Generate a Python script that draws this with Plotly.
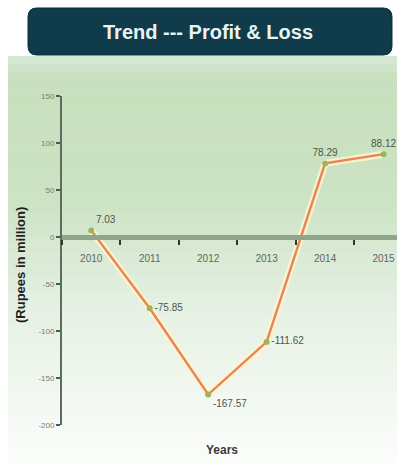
import plotly.graph_objects as go

# Yearly profit / loss (Rupees in million)
years = ["2010", "2011", "2012", "2013", "2014", "2015"]
profit_loss = [7.03, -75.85, -167.57, -111.62, 78.29, 88.12]
value_labels = ["7.03", "-75.85", "-167.57", "-111.62", "78.29", "88.12"]
label_positions = ["top right", "middle right", "bottom right", "middle right", "top center", "top center"]
y_ticks = [150, 100, 50, 0, -50, -100, -150, -200]

W, H = 397, 464
L, R, T, B = 62, 0, 96, 39
y_range = [-200, 150]

def px_x(p):
    return (p - L) / (W - L - R)

def px_y(p):
    return (H - B - p) / (H - T - B)

fig = go.Figure()

# soft glow under the trend line
fig.add_trace(go.Scatter(
    x=years, y=profit_loss, mode="lines",
    line=dict(color="rgba(255,246,200,0.85)", width=7),
    hoverinfo="skip", showlegend=False, cliponaxis=False,
))
fig.add_trace(go.Scatter(
    x=years, y=profit_loss, mode="lines+markers+text",
    line=dict(color="#e8835f", width=2.4),
    marker=dict(color="#9db35c", size=6),
    text=value_labels, textposition=label_positions,
    textfont=dict(family="Liberation Sans, Arial", size=10, color="#4a574a"),
    showlegend=False, cliponaxis=False,
))

shapes = []
# vertical background wash: pale green at the top fading to white
stops = [(56, (214, 232, 214)), (80, (200, 224, 190)), (200, (204, 227, 196)), (300, (228, 240, 226)),
         (400, (243, 248, 242)), (464, (252, 253, 252))]
n_bands = 52
for i in range(n_bands):
    p0 = 56 + (464 - 56) * i / n_bands
    p1 = 56 + (464 - 56) * (i + 1) / n_bands
    pm = (p0 + p1) / 2
    for (a, ca), (b, cb) in zip(stops[:-1], stops[1:]):
        if a <= pm <= b:
            t = (pm - a) / (b - a)
            c = tuple(round(ca[k] + (cb[k] - ca[k]) * t) for k in range(3))
            break
    shapes.append(dict(
        type="rect", xref="paper", yref="paper", layer="below",
        x0=px_x(8), x1=px_x(397), y0=px_y(p1 + 0.5), y1=px_y(p0),
        fillcolor="rgb(%d,%d,%d)" % c, line=dict(width=0),
    ))

# rounded title banner
bx0, bx1, by0, by1 = 28, 392, 8, 55
r = 9
def pt(x, y):
    return "%.5f,%.5f" % (px_x(x), px_y(y))
path = ("M " + pt(bx0 + r, by0) + " L " + pt(bx1 - r, by0) + " Q " + pt(bx1, by0) + " " + pt(bx1, by0 + r)
        + " L " + pt(bx1, by1 - r) + " Q " + pt(bx1, by1) + " " + pt(bx1 - r, by1)
        + " L " + pt(bx0 + r, by1) + " Q " + pt(bx0, by1) + " " + pt(bx0, by1 - r)
        + " L " + pt(bx0, by0 + r) + " Q " + pt(bx0, by0) + " " + pt(bx0 + r, by0) + " Z")
shapes.append(dict(type="path", xref="paper", yref="paper", path=path,
                   fillcolor="#0f3b4a", line=dict(color="#0a2e3a", width=1), layer="above"))

annotations = [
    dict(text="<b>Trend --- Profit &amp; Loss</b>", xref="paper", yref="paper",
         x=px_x(208), y=px_y(32), xanchor="center", yanchor="middle", showarrow=False,
         font=dict(family="Liberation Sans, Arial", size=20, color="#e8f4f4")),
    dict(text="<b>Years</b>", xref="paper", yref="paper",
         x=px_x(222), y=px_y(450), xanchor="center", yanchor="middle", showarrow=False,
         font=dict(family="Liberation Sans, Arial", size=12, color="#3a3a3a")),
    dict(text="<b>(Rupees in million)</b>", xref="paper", yref="paper", textangle=-90,
         x=px_x(20), y=px_y(265), xanchor="center", yanchor="middle", showarrow=False,
         font=dict(family="Liberation Sans, Arial", size=13, color="#1e1e1e")),
]

zero_pos = (0 - y_range[0]) / (y_range[1] - y_range[0])

fig.update_layout(
    width=W, height=H,
    margin=dict(l=L, r=R, t=T, b=B),
    paper_bgcolor="white",
    plot_bgcolor="rgba(0,0,0,0)",
    shapes=shapes,
    annotations=annotations,
    xaxis=dict(
        type="category", categoryorder="array", categoryarray=years,
        range=[-0.5, 5.23], anchor="free", position=zero_pos,
        showline=True, linecolor="#8ea58e", linewidth=5,
        ticks="outside", tickson="boundaries", ticklen=5, tickwidth=1.5, tickcolor="#2f3a2f",
        showgrid=False, ticklabelstandoff=10,
        tickfont=dict(family="Liberation Sans, Arial", size=10, color="#666666"),
    ),
    yaxis=dict(
        range=y_range, tickvals=y_ticks, ticktext=[str(v) for v in y_ticks],
        showline=True, linecolor="#5d6d5d", linewidth=2,
        ticks="outside", ticklen=4, tickwidth=1.5, tickcolor="#4b5a4b",
        showgrid=False, zeroline=False,
        tickfont=dict(family="Liberation Sans, Arial", size=8, color="#7a7a7a"),
    ),
)

fig.write_html("out.html")
